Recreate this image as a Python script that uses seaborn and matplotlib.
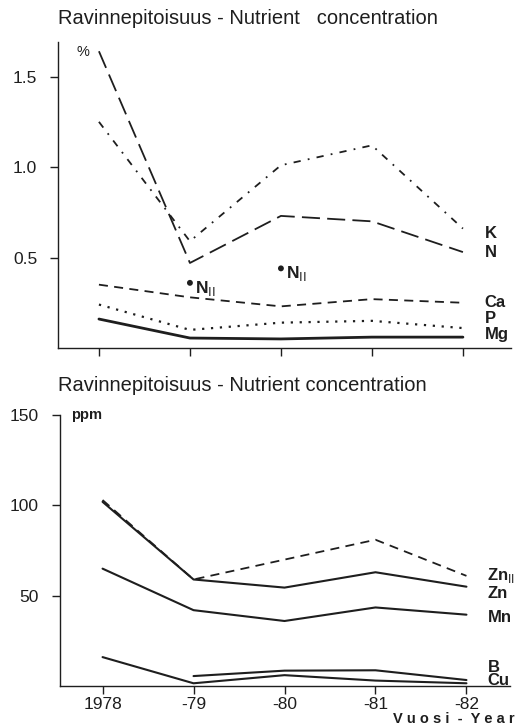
import matplotlib
matplotlib.use("Agg")
import matplotlib.pyplot as plt
import numpy as np
import pandas as pd
import seaborn as sns

sns.set_theme(style="ticks")
plt.rcParams["font.family"] = ["Liberation Sans", "DejaVu Sans"]

years = [1978, 1979, 1980, 1981, 1982]
year_labels = ["1978", "-79", "-80", "-81", "-82"]

# Macro nutrients, % of dry matter
K = [1.25, 0.59, 1.01, 1.12, 0.66]
N = [1.64, 0.47, 0.73, 0.70, 0.53]
Ca = [0.35, 0.28, 0.23, 0.27, 0.25]
P = [0.24, 0.10, 0.14, 0.15, 0.11]
Mg = [0.16, 0.055, 0.05, 0.06, 0.06]
N2_years = [1979, 1980]
N2 = [0.36, 0.44]

# Micro nutrients, ppm
Zn2 = [103, 59, 70, 81, 61]
Zn = [102, 59, 54.5, 63, 55]
Mn = [65, 42, 36, 43.5, 39.5]
B = [np.nan, 5.5, 8.5, 8.7, 3.3]
Cu = [16, 1.5, 6, 3, 1.5]

ink = "#1e1e1e"

fig = plt.figure(figsize=(5.2, 7.28), dpi=100)
ax1 = fig.add_axes([0.1115, 0.522, 0.8715, 0.42])
ax2 = fig.add_axes([0.115, 0.0577, 0.866, 0.372])


def line(ax, vals, ls, lw=1.3):
    df = pd.DataFrame({"year": years, "value": vals}).dropna()
    sns.lineplot(data=df, x="year", y="value", ax=ax, color=ink,
                 linewidth=lw, linestyle=ls, estimator=None)


# top panel: macro nutrients
line(ax1, K, (0, (4, 4, 1, 4)))
line(ax1, N, (0, (10, 4)))
line(ax1, Ca, (0, (5, 3.5)))
line(ax1, P, (0, (1, 3)), lw=1.6)
line(ax1, Mg, "-", lw=2.0)
sns.scatterplot(x=N2_years, y=N2, ax=ax1, color=ink, s=18, edgecolor="none")
for xv, yv in zip(N2_years, N2):
    ax1.annotate("N$_{\\mathrm{II}}$", (xv, yv), xytext=(4, -4),
                 textcoords="offset points", fontsize=12.5, fontweight="bold",
                 color=ink, va="center", ha="left")

ax1.set_xlim(1977.55, 1982.53)
ax1.set_ylim(0, 1.69)
ax1.set_yticks([0.5, 1.0, 1.5])
ax1.set_yticklabels(["0.5", "1.0", "1.5"])
ax1.set_xticks(years)
ax1.set_xticklabels([])
ax1.set_xlabel("")
ax1.set_ylabel("")
ax1.text(0.04, 0.99, "%", transform=ax1.transAxes, fontsize=10.5, color=ink,
         va="top", ha="left")

for name, yv in [("K", 0.635), ("N", 0.53), ("Ca", 0.25), ("P", 0.165),
                 ("Mg", 0.075)]:
    ax1.text(1982.24, yv, name, fontsize=12, fontweight="bold", color=ink,
             va="center", ha="left")
fig.text(0.112, 0.975, "Ravinnepitoisuus - Nutrient   concentration",
         fontsize=14.5, color=ink, ha="left", va="center")

# bottom panel: micro nutrients
line(ax2, Zn2, (0, (5, 3.5)))
line(ax2, Zn, "-", lw=1.5)
line(ax2, Mn, "-", lw=1.5)
line(ax2, B, "-", lw=1.5)
line(ax2, Cu, "-", lw=1.5)

ax2.set_xlim(1977.53, 1982.48)
ax2.set_ylim(0, 150)
ax2.set_yticks([50, 100, 150])
ax2.set_yticklabels(["50", "100", "150"])
ax2.set_xticks(years)
ax2.set_xticklabels(year_labels)
ax2.set_xlabel("")
ax2.set_ylabel("")
ax2.text(0.025, 1.0, "ppm", transform=ax2.transAxes, fontsize=10.5,
         fontweight="bold", color=ink, va="center", ha="left")
for name, yv in [("Zn$_{\\mathrm{II}}$", 61), ("Zn", 51), ("Mn", 38),
                 ("B", 10.5), ("Cu", 3)]:
    ax2.text(1982.23, yv, name, fontsize=12, fontweight="bold", color=ink,
             va="center", ha="left")
fig.text(0.99, 0.003, "V u o s i  -  Y e a r", fontsize=10.5,
         fontweight="bold", color=ink, ha="right", va="bottom")
fig.text(0.112, 0.471, "Ravinnepitoisuus - Nutrient concentration",
         fontsize=14.5, color=ink, ha="left", va="center")

for ax in (ax1, ax2):
    sns.despine(ax=ax)
    for sp in ("left", "bottom"):
        ax.spines[sp].set_linewidth(1.0)
        ax.spines[sp].set_color(ink)
    ax.tick_params(axis="both", direction="out", length=6, width=1.0,
                   color=ink, labelcolor=ink, labelsize=12.5)
    ax.tick_params(axis="y", pad=9)
    ax.tick_params(axis="x", pad=2)
    ax.set_facecolor("white")

fig.savefig("out.png", dpi=100, facecolor="white")
